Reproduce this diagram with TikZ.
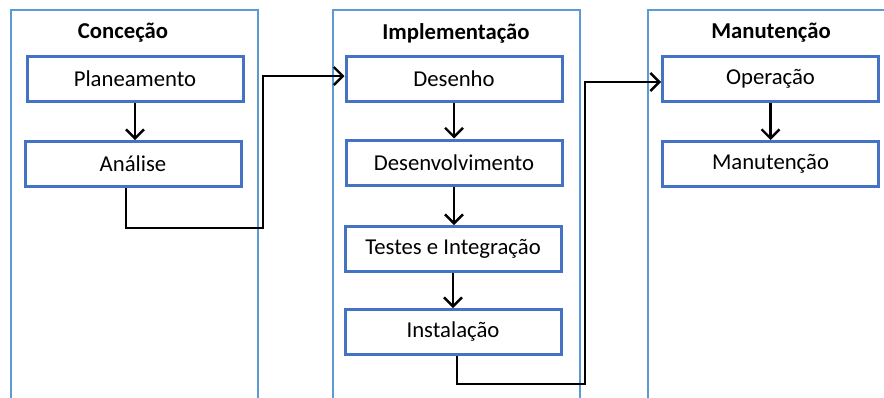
\documentclass[tikz,border=0pt]{standalone}
\usepackage{fontspec}
\setmainfont{Carlito}
\usetikzlibrary{arrows.meta}
\definecolor{laneblue}{RGB}{91,155,213}
\definecolor{boxblue}{RGB}{68,114,196}

\begin{document}
\begin{tikzpicture}[x=1pt,y=-1pt,
    lane/.style={draw=laneblue, line width=2.4pt},
    stage/.style={draw=boxblue, line width=3pt, fill=white, minimum width=216pt, minimum height=45pt,
                  inner sep=0pt, font=\fontsize{22.7}{26}\selectfont},
    lanetitle/.style={font=\fontsize{22.7}{26}\selectfont\bfseries},
    flow/.style={draw=black, line width=2.4pt, -{Straight Barb[length=9pt,width=18pt]}}]
            \useasboundingbox (0,0) rectangle (884,397);
            \draw[lane] ( 11,410) -- ( 11,10) -- (258,10) -- (258,410);
            \draw[lane] (333,410) -- (333,10) -- (580,10) -- (580,410);
            \draw[lane] (648,410) -- (648,10) -- (900,10);
            \node[lanetitle] (tconc) at (123,33) {Conceção};
            \node[lanetitle] (timpl) at (456,33) {Implementação};
            \node[lanetitle] (tmanu) at (771,33) {Manutenção};
            \node[stage] (plan) at (135,78.5) {Planeamento};
            \node[stage] (anal) at (133,164)  {Análise};
            \node[stage] (des)  at (454,79)   {Desenho};
            \node[stage] (devl) at (454,162.5){Desenvolvimento};
            \node[stage] (test) at (453,249)  {Testes e Integração};
            \node[stage] (inst) at (453,332)  {Instalação};
            \node[stage] (oper) at (770.5,79) {Operação};
            \node[stage] (manu) at (770.5,164){Manutenção};
            \coordinate (bendA) at (263,228);
            \coordinate (bendB) at (585,384);
            \draw[flow] (plan.south) -- (plan.south |- anal.north);
            \draw[flow] (des.south)  -- (des.south |- devl.north);
            \draw[flow] (devl.south) -- (devl.south |- test.north);
            \draw[flow] (test.south) -- (test.south |- inst.north);
            \draw[flow] (oper.south) -- (oper.south |- manu.north);
            \draw[flow] ([xshift=-7pt]anal.south) |- (bendA) |- ([yshift=3pt]des.west);
            \draw[flow] ([xshift=4pt]inst.south) |- (bendB) |- ([yshift=-3pt]oper.west);
        \end{tikzpicture}
\end{document}
